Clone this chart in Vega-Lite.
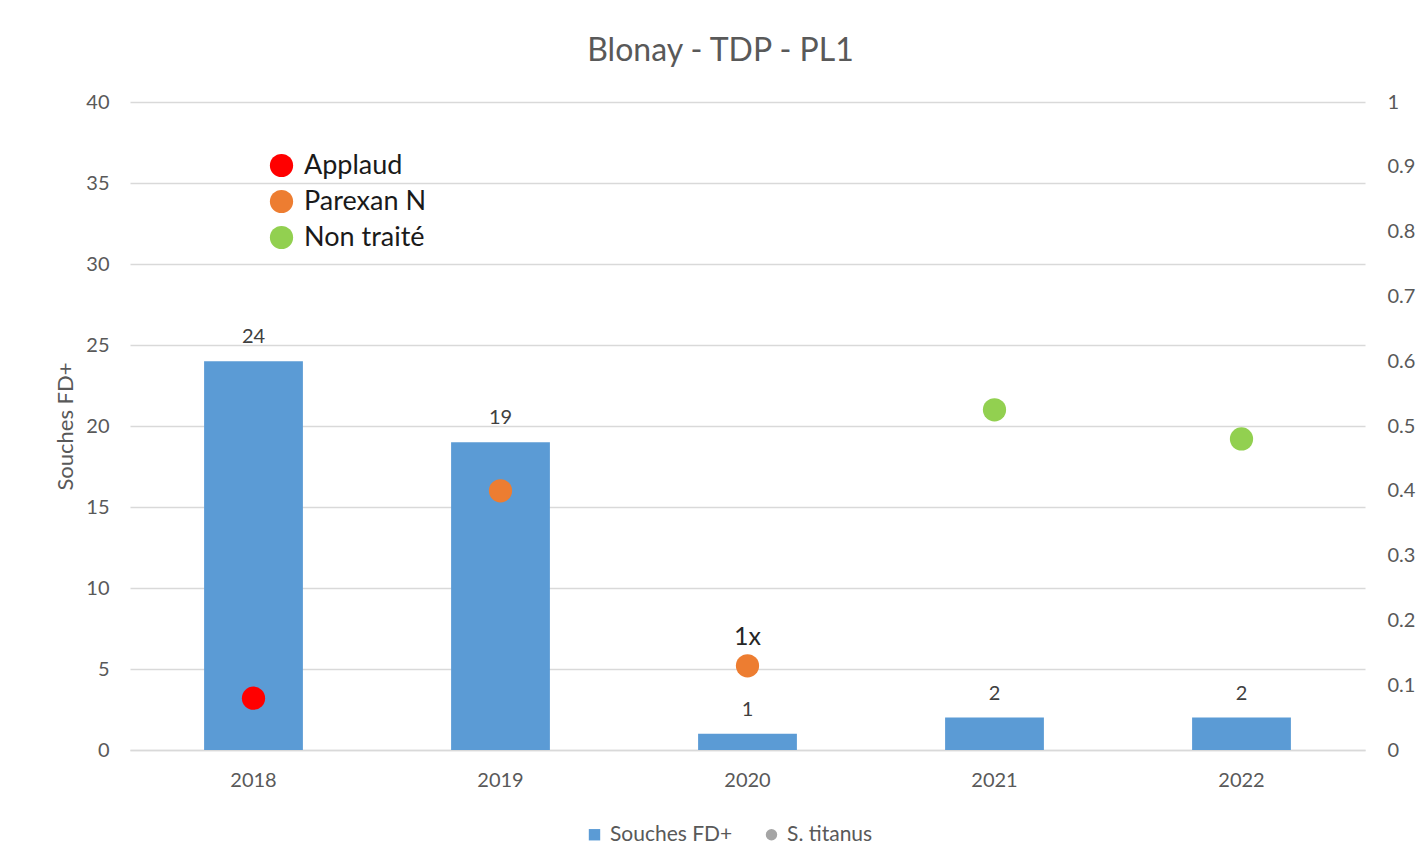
{
  "$schema": "https://vega.github.io/schema/vega-lite/v6.json",
  "width": 1235,
  "height": 648,
  "autosize": "none",
  "padding": {"left": 130, "top": 102, "right": 53, "bottom": 118},
  "background": "white",
  "title": {
    "text": "Blonay - TDP - PL1",
    "font": "Lato",
    "fontSize": 32,
    "fontWeight": "normal",
    "color": "#595959",
    "offset": 24,
    "dx": -27
  },
  "data": {
    "values": [
      {"annee": "2018", "souches": 24, "titanus": 0.08, "traitement": "Applaud", "note": ""},
      {"annee": "2019", "souches": 19, "titanus": 0.40, "traitement": "Parexan N", "note": ""},
      {"annee": "2020", "souches": 1, "titanus": 0.13, "traitement": "Parexan N", "note": "1x"},
      {"annee": "2021", "souches": 2, "titanus": 0.525, "traitement": "Non traité", "note": ""},
      {"annee": "2022", "souches": 2, "titanus": 0.48, "traitement": "Non traité", "note": ""}
    ]
  },
  "encoding": {
    "x": {
      "field": "annee",
      "type": "nominal",
      "scale": {"paddingInner": 0.6, "paddingOuter": 0.3},
      "axis": {
        "title": null,
        "labelAngle": 0,
        "labelFont": "Lato",
        "labelFontSize": 20,
        "labelColor": "#595959",
        "labelPadding": 20,
        "ticks": false,
        "domainColor": "#d9d9d9",
        "domainWidth": 1.5,
        "grid": false
      }
    }
  },
  "layer": [
    {
      "encoding": {
        "y": {
          "field": "souches",
          "type": "quantitative",
          "scale": {"domain": [0, 40], "nice": false},
          "axis": {
            "title": "Souches FD+",
            "titleFont": "Lato",
            "titleFontSize": 22,
            "titleFontWeight": "normal",
            "titleColor": "#595959",
            "titlePadding": 8,
            "labelFont": "Lato",
            "labelFontSize": 20,
            "labelColor": "#595959",
            "labelPadding": 21,
            "values": [0, 5, 10, 15, 20, 25, 30, 35, 40],
            "ticks": false,
            "domain": false,
            "grid": true,
            "gridColor": "#d9d9d9",
            "gridWidth": 1.5
          }
        }
      },
      "layer": [
        {
          "mark": {"type": "bar"},
          "encoding": {
            "fill": {
              "datum": "Souches FD+",
              "type": "nominal",
              "scale": {"domain": ["Souches FD+", "S. titanus"], "range": ["#5B9BD5", "#A5A5A5"]},
              "legend": {
                "title": null,
                "orient": "none",
                "direction": "horizontal",
                "legendX": 454,
                "legendY": 722,
                "symbolType": "square",
                "symbolSize": 130,
                "labelFont": "Lato",
                "labelFontSize": 21,
                "labelColor": "#595959",
                "labelOffset": 5,
                "columnPadding": 28,
                "encoding": {
                  "symbols": {
                    "shape": {"condition": {"test": "datum.value === 'S. titanus'", "value": "circle"}, "value": "square"}
                  }
                }
              }
            }
          }
        },
        {
          "mark": {"type": "text", "baseline": "bottom", "dy": -14, "font": "Lato", "fontSize": 20, "color": "#404040"},
          "encoding": {
            "text": {"field": "souches", "type": "quantitative"}
          }
        }
      ]
    },
    {
      "encoding": {
        "y": {
          "field": "titanus",
          "type": "quantitative",
          "scale": {"domain": [0, 1], "nice": false},
          "axis": {
            "title": null,
            "orient": "right",
            "values": [0, 0.1, 0.2, 0.3, 0.4, 0.5, 0.6, 0.7, 0.8, 0.9, 1],
            "format": ".1~f",
            "labelFont": "Lato",
            "labelFontSize": 20,
            "labelColor": "#595959",
            "labelPadding": 22,
            "ticks": false,
            "domain": false,
            "grid": false
          }
        }
      },
      "layer": [
        {
          "mark": {"type": "point", "filled": true, "opacity": 1, "size": 540},
          "encoding": {
            "color": {
              "field": "traitement",
              "type": "nominal",
              "scale": {"domain": ["Applaud", "Parexan N", "Non traité"], "range": ["#FF0000", "#ED7D31", "#92D050"]},
              "legend": {
                "title": null,
                "orient": "none",
                "legendX": 138,
                "legendY": 50,
                "symbolType": "circle",
                "symbolSize": 540,
                "symbolOpacity": 1,
                "labelFont": "Lato",
                "labelFontSize": 27,
                "labelColor": "#1a1a1a",
                "labelOffset": 9,
                "rowPadding": 8
              }
            }
          }
        },
        {
          "mark": {"type": "text", "baseline": "bottom", "dy": -16, "font": "Lato", "fontSize": 25, "color": "#262626"},
          "encoding": {
            "text": {"field": "note", "type": "nominal"}
          }
        }
      ]
    }
  ],
  "resolve": {"scale": {"y": "independent"}},
  "config": {"view": {"stroke": null}}
}
